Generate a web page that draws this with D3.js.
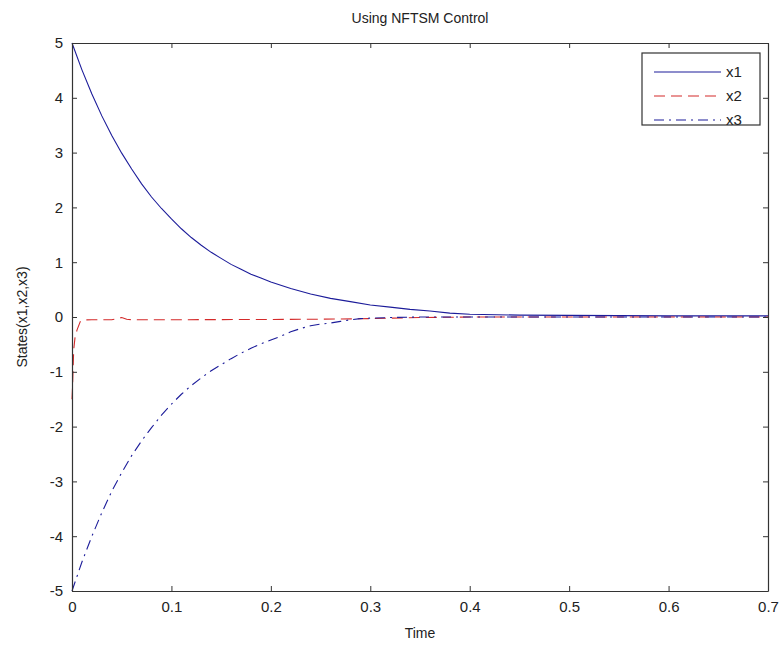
<!DOCTYPE html>
<html>
<head>
<meta charset="utf-8">
<script src="https://cdn.jsdelivr.net/npm/d3@7"></script>
<style>
  body { margin: 0; background: #fff; }
  svg text { font-family: "Liberation Sans", Arial, sans-serif; fill: #222; }
</style>
</head>
<body>
<div id="chart"></div>
<script>
// Tick labels
var xTicks = [0, 0.1, 0.2, 0.3, 0.4, 0.5, 0.6, 0.7];
var yTicks = [-5, -4, -3, -2, -1, 0, 1, 2, 3, 4, 5];

// Series names
var seriesNames = ['x1', 'x2', 'x3'];

// x1 (solid blue)
var x1Time  = [0, 0.01, 0.02, 0.03, 0.04, 0.05, 0.06, 0.07, 0.08, 0.09, 0.10, 0.11, 0.12, 0.13, 0.14, 0.15, 0.16, 0.17, 0.18, 0.19, 0.20, 0.22, 0.24, 0.26, 0.28, 0.30, 0.32, 0.34, 0.36, 0.38, 0.40, 0.45, 0.50, 0.60, 0.70];
var x1Value = [5.00, 4.51, 4.07, 3.67, 3.31, 2.99, 2.70, 2.43, 2.19, 1.98, 1.79, 1.61, 1.45, 1.31, 1.18, 1.07, 0.96, 0.87, 0.78, 0.71, 0.64, 0.52, 0.42, 0.34, 0.28, 0.22, 0.18, 0.14, 0.11, 0.07, 0.05, 0.035, 0.03, 0.02, 0.02];

// x2 (dashed red)
var x2Time  = [0, 0.0005, 0.001, 0.0017, 0.003, 0.005, 0.0083, 0.0117, 0.02, 0.04, 0.045, 0.05, 0.055, 0.06, 0.10, 0.20, 0.25, 0.30, 0.35, 0.40, 0.70];
var x2Value = [-1.50, -1.30, -1.00, -0.60, -0.38, -0.24, -0.085, -0.055, -0.05, -0.05, -0.03, -0.01, -0.04, -0.05, -0.05, -0.045, -0.04, -0.03, -0.01, 0, 0];

// x3 (dash-dot blue)
var x3Time  = [0, 0.01, 0.02, 0.03, 0.04, 0.05, 0.06, 0.07, 0.08, 0.09, 0.10, 0.11, 0.12, 0.13, 0.14, 0.15, 0.16, 0.17, 0.18, 0.19, 0.20, 0.21, 0.22, 0.23, 0.24, 0.25, 0.26, 0.27, 0.28, 0.29, 0.30, 0.32, 0.35, 0.70];
var x3Value = [-5.00, -4.47, -4.00, -3.57, -3.18, -2.84, -2.53, -2.26, -2.02, -1.79, -1.59, -1.41, -1.25, -1.11, -0.98, -0.87, -0.76, -0.66, -0.57, -0.49, -0.42, -0.35, -0.27, -0.21, -0.16, -0.13, -0.11, -0.08, -0.05, -0.03, -0.02, -0.01, 0, 0];

// Colours and sizes
var COLORS = {
  BLUE: '#1c1c9a',
  RED: '#d42a2a',
  AXIS: '#333333'
};
var WIDTH = 784, HEIGHT = 650;
var margin = {left: 72, right: 16, top: 43, bottom: 59};
var TICK = 5;

var svg = d3.select('#chart')
  .append('svg')
  .attr('width', WIDTH)
  .attr('height', HEIGHT);

var x = d3.scaleLinear().domain([0, 0.7]).range([margin.left, WIDTH - margin.right]);
var y = d3.scaleLinear().domain([-5, 5]).range([HEIGHT - margin.bottom, margin.top]);

// Lines
var series = [
  {name: seriesNames[0], t: x1Time, v: x1Value, color: COLORS.BLUE, dash: null},
  {name: seriesNames[1], t: x2Time, v: x2Value, color: COLORS.RED, dash: '11,6'},
  {name: seriesNames[2], t: x3Time, v: x3Value, color: COLORS.BLUE, dash: '10,5,2,5'}
];

var line = d3.line()
  .x(function(d) { return x(d[0]); })
  .y(function(d) { return y(d[1]); });

series.forEach(function(s) {
  var pts = s.t.map(function(t, i) { return [t, s.v[i]]; });
  svg.append('path')
    .datum(pts)
    .attr('fill', 'none')
    .attr('stroke', s.color)
    .attr('stroke-width', 1.1)
    .attr('stroke-dasharray', s.dash)
    .attr('d', line);
});

// Axes, ticks pointing inward, box on all sides
// plain hyphen for negatives, like the original
function fmtY(d) { return String(d); }
function fmtX(d) { return d === 0 ? '0' : d.toFixed(1); }

var xAxisB = d3.axisBottom(x).tickValues(xTicks).tickSizeInner(-TICK).tickSizeOuter(0).tickPadding(10).tickFormat(fmtX);
var xAxisT = d3.axisTop(x).tickValues(xTicks).tickSizeInner(-TICK).tickSizeOuter(0).tickFormat('');
var yAxisL = d3.axisLeft(y).tickValues(yTicks).tickSizeInner(-TICK).tickSizeOuter(0).tickPadding(9).tickFormat(fmtY);
var yAxisR = d3.axisRight(y).tickValues(yTicks).tickSizeInner(-TICK).tickSizeOuter(0).tickFormat('');

function styleAxis(g) {
  g.selectAll('.domain').attr('stroke', COLORS.AXIS).attr('stroke-width', 1.2);
  g.selectAll('.tick line').attr('stroke', COLORS.AXIS);
  g.selectAll('.tick text')
    .attr('font-family', '"Liberation Sans", Arial, sans-serif')
    .attr('font-size', '15px')
    .attr('fill', '#222');
}

svg.append('g').attr('transform', 'translate(0,' + y(-5) + ')').call(xAxisB).call(styleAxis);
svg.append('g').attr('transform', 'translate(0,' + y(5) + ')').call(xAxisT).call(styleAxis);
svg.append('g').attr('transform', 'translate(' + x(0) + ',0)').call(yAxisL).call(styleAxis);
svg.append('g').attr('transform', 'translate(' + x(0.7) + ',0)').call(yAxisR).call(styleAxis);

// Title and axis labels
svg.append('text')
  .attr('x', (x(0) + x(0.7)) / 2)
  .attr('y', 23)
  .attr('text-anchor', 'middle')
  .attr('font-size', '14px')
  .text('Using NFTSM Control');

svg.append('text')
  .attr('x', (x(0) + x(0.7)) / 2)
  .attr('y', 638)
  .attr('text-anchor', 'middle')
  .attr('font-size', '14px')
  .text('Time');

svg.append('text')
  .attr('transform', 'translate(27,' + y(0) + ') rotate(-90)')
  .attr('text-anchor', 'middle')
  .attr('font-size', '14px')
  .text('States(x1,x2,x3)');

// Legend
var legend = svg.append('g').attr('transform', 'translate(642,53)');
legend.append('rect')
  .attr('width', 118)
  .attr('height', 72)
  .attr('fill', '#fff')
  .attr('stroke', COLORS.AXIS)
  .attr('stroke-width', 1.2);

series.forEach(function(s, i) {
  var ly = 19 + i * 24;
  legend.append('line')
    .attr('x1', 12).attr('x2', 79)
    .attr('y1', ly).attr('y2', ly)
    .attr('stroke', s.color)
    .attr('stroke-width', 1.1)
    .attr('stroke-dasharray', s.dash);
  legend.append('text')
    .attr('x', 84)
    .attr('y', ly + 5)
    .attr('font-size', '15px')
    .text(s.name);
});
</script>
</body>
</html>
